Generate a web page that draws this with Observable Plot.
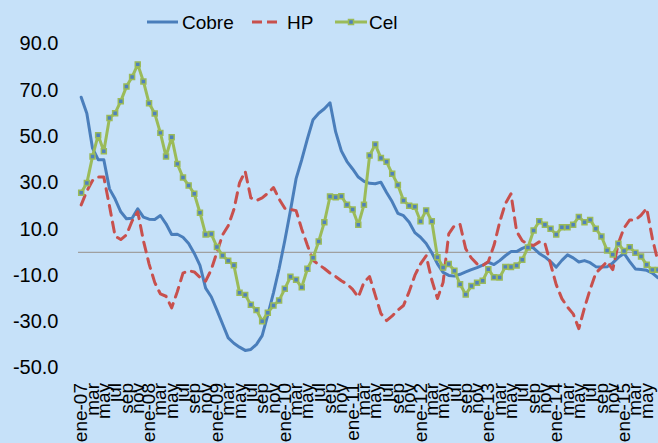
<!DOCTYPE html>
<html><head><meta charset="utf-8">
<script src="https://cdn.jsdelivr.net/npm/d3@7"></script>
<script src="https://cdn.jsdelivr.net/npm/@observablehq/plot@0.6"></script>
<style>
html,body{margin:0;padding:0;background:#c6e1f9;}
#wrap{position:relative;width:658px;height:443px;overflow:hidden;font-family:"Liberation Sans",Arial,sans-serif;}
#legend{position:absolute;left:0;top:0;}
</style></head><body>
<div id="wrap"><div id="chart"></div>
<svg id="legend" width="658" height="40" font-family="Liberation Sans, Arial, sans-serif" font-size="19">
  <line x1="147" x2="178" y1="22" y2="22" stroke="#4a7ebb" stroke-width="3"/>
  <text x="182" y="29">Cobre</text>
  <line x1="252" x2="277" y1="22" y2="22" stroke="#c8504d" stroke-width="3" stroke-dasharray="10,5"/>
  <text x="287" y="29">HP</text>
  <line x1="335" x2="367" y1="22" y2="22" stroke="#9bbb59" stroke-width="3"/>
  <rect x="348.5" y="19.5" width="5" height="5" fill="#4f81bd" stroke="#9bbb59" stroke-width="1.5"/>
  <text x="369" y="29">Cel</text>
</svg>
</div>
<script>
// month labels (Spanish), first month = ene-07
const monthNames = ["ene","feb","mar","abr","may","jun","jul","ago","sep","oct","nov","dic"];
const firstYear = 7;

const cobre = [67.0,60.0,45.0,40.0,40.0,27.4,23.0,17.5,14.5,14.7,
  18.8,15.2,14.3,14.2,15.9,12.3,7.7,7.8,6.5,3.8,
  -0.5,-5.7,-15.5,-19.2,-25.0,-31.0,-37.0,-39.3,-41.0,-42.4,
  -42.0,-39.8,-36.0,-27.0,-17.5,-7.0,5.0,18.0,31.8,40.0,
  49.0,57.3,60.1,62.0,64.6,52.0,43.8,39.2,36.0,32.5,
  30.7,29.8,29.6,30.3,25.8,21.8,16.8,15.8,13.0,8.5,
  6.5,3.8,-0.2,-5.0,-8.7,-10.0,-10.3,-9.5,-8.5,-7.5,
  -6.6,-5.5,-4.3,-5.3,-3.6,-1.5,0.3,0.3,1.7,2.7,
  1.8,-0.5,-2.0,-4.0,-6.4,-3.5,-1.1,-2.4,-4.2,-3.6,
  -4.5,-6.2,-6.4,-6.2,-4.6,-2.2,-0.5,-4.0,-7.2,-7.4,
  -7.8,-9.0,-11.0];

const hp = [20.5,26.5,31.0,32.5,32.5,20.0,7.0,5.5,7.5,13.5,
  17.5,5.0,-5.0,-13.0,-18.0,-19.0,-24.0,-17.0,-9.0,-8.0,
  -8.5,-10.8,-12.5,-7.5,0.0,7.5,11.5,18.5,30.0,35.0,
  23.5,22.4,23.5,25.5,28.0,23.0,19.0,18.5,18.0,10.0,
  3.0,-3.5,-5.3,-7.0,-9.0,-10.5,-12.3,-13.7,-16.0,-19.4,
  -13.0,-10.5,-18.5,-26.5,-29.5,-27.5,-25.0,-23.0,-17.0,-10.0,
  -5.0,-1.5,-12.0,-20.0,-13.0,8.0,11.5,12.0,1.5,-2.5,
  -5.0,-5.8,-4.0,3.0,13.0,21.0,25.3,9.0,5.0,3.5,
  2.9,4.5,4.0,-5.0,-14.0,-20.0,-23.7,-26.6,-33.0,-24.0,
  -16.0,-9.0,-6.5,-4.0,-7.5,4.0,10.5,14.0,14.0,16.0,
  19.0,6.0,-4.0];

const cel = [25.7,29.9,41.4,50.6,43.7,58.0,60.1,65.3,71.6,75.7,
  81.2,73.8,64.4,60.0,51.6,41.4,49.7,38.2,32.3,28.9,
  25.3,17.1,7.7,7.9,2.3,-1.4,-3.7,-5.6,-17.5,-18.4,
  -22.7,-25.0,-29.8,-26.1,-23.0,-20.8,-15.8,-10.6,-11.9,-15.1,
  -7.1,-2.4,4.7,13.0,24.1,23.8,24.2,20.5,18.5,11.9,
  20.5,41.8,46.6,40.7,39.1,33.9,29.1,22.4,20.1,19.7,
  13.4,18.1,13.4,-2.1,-6.6,-5.1,-8.0,-13.8,-18.2,-14.6,
  -13.2,-12.3,-7.3,-10.8,-10.9,-6.3,-6.4,-5.7,-3.2,2.1,
  9.4,13.4,11.9,10.2,7.7,10.8,10.8,11.9,15.3,13.0,
  14.0,10.2,6.8,0.8,-1.0,3.7,0.6,2.2,-0.2,-1.8,
  -5.4,-7.6,-7.6];

const yTicks = [-50, -30, -10, 10, 30, 50, 70, 90];

const rows = arr => arr.map((v, i) => ({i, v}));
const monthLabel = i => {
  const m = i % 12;
  const y = firstYear + Math.floor(i / 12);
  return m === 0 ? `ene-${String(y).padStart(2, "0")}` : monthNames[m];
};
const n = cobre.length;

const chart = Plot.plot({
  width: 658,
  height: 443,
  marginTop: 43.5,
  marginBottom: 75.5,
  marginLeft: 78,
  marginRight: 0,
  style: {background: "transparent", fontFamily: "Liberation Sans, Arial, sans-serif", color: "#000", overflow: "visible"},
  x: {domain: [0, n - 1], range: [80.7, 657.5], label: null},
  y: {domain: [-50, 90], label: null},
  marks: [
    Plot.ruleY([0], {stroke: "#a0a0a0", strokeWidth: 1.2}),
    Plot.axisY(yTicks, {tickSize: 0, tickPadding: 20, fontSize: 20, tickFormat: d => d.toFixed(1), label: null}),
    Plot.axisX(d3.range(0, n - 1, 2), {tickSize: 0, tickPadding: 15, tickRotate: -90, fontSize: 19, tickFormat: monthLabel, label: null}),
    Plot.line(rows(cobre), {x: "i", y: "v", stroke: "#4a7ebb", strokeWidth: 3, strokeLinejoin: "round"}),
    Plot.line(rows(hp), {x: "i", y: "v", stroke: "#c8504d", strokeWidth: 3, strokeDasharray: "10,7"}),
    Plot.line(rows(cel), {x: "i", y: "v", stroke: "#9bbb59", strokeWidth: 3, strokeLinejoin: "round"}),
    Plot.dot(rows(cel), {x: "i", y: "v", symbol: "square", r: 2.8, fill: "#4f81bd", stroke: "#9bbb59", strokeWidth: 1.5})
  ]
});
document.getElementById("chart").appendChild(chart);
</script>
</body></html>
